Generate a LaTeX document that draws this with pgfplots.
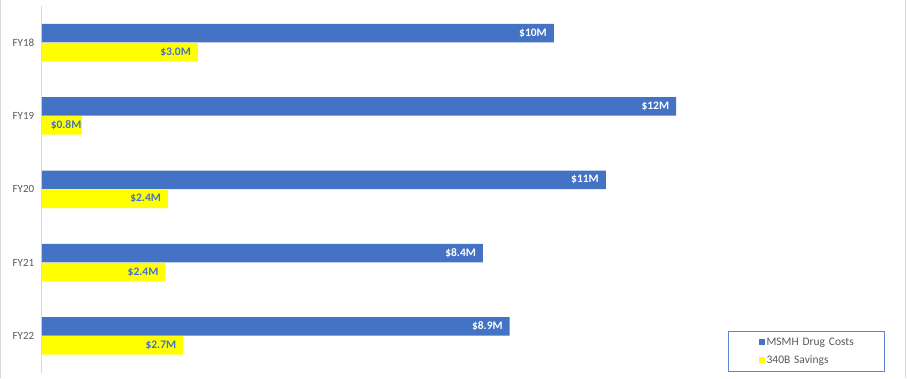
\documentclass[border=0pt]{standalone}
\usepackage{pgfplots}
\pgfplotsset{compat=1.18}
\usepackage{fontspec}
\setmainfont{Carlito}
\definecolor{cblue}{HTML}{4472C4}
\definecolor{cyel}{HTML}{FFFF00}
\definecolor{tgrey}{HTML}{595959}
\definecolor{lgrey}{HTML}{D9D9D9}
\begin{document}
\begin{tikzpicture}[x=1pt,y=1pt]
\path (0,0) rectangle (907,378);
\draw[lgrey, line width=1pt] (0.5,0) -- (0.5,378);
\draw[lgrey, line width=1pt] (905.5,0) -- (905.5,378);
\begin{axis}[
  at={(42pt,6pt)}, anchor=south west,
  scale only axis, width=843pt, height=366.5pt,
  xmin=0, xmax=16.06, ymin=-0.5, ymax=4.5,
  y dir=reverse,
  xbar, bar width=18.5pt,
  hide x axis,
  axis y line*=left,
  y axis line style={draw=lgrey, line width=1pt, -},
  ytick={0,1,2,3,4},
  yticklabels={FY18,FY19,FY20,FY21,FY22},
  ytick style={draw=none},
  yticklabel style={font=\fontsize{11}{13}\selectfont, text=tgrey},
  point meta=explicit symbolic,
  nodes near coords,
  nodes near coords style={anchor=east, xshift=-3.5pt, font=\bfseries\fontsize{11.5}{14}\selectfont},
  legend style={at={(1,0.003)}, anchor=south east, draw=cblue!85, line width=0.8pt,
    font=\fontsize{11.5}{13}\selectfont, text=tgrey, row sep=5pt,
    inner xsep=4pt, inner ysep=4pt, cells={anchor=west}, text width=112pt},
  legend cell align=left,
]
\addplot[draw=none, fill=cblue, bar shift=9.5pt,
  nodes near coords style={text=white},
  legend image code/.code={\path (0pt,0pt); \fill[cblue] (26pt,-3pt) rectangle (32pt,3pt);}]
  coordinates {(9.75,0) [\$10M] (12.08,1) [\$12M] (10.74,2) [\$11M] (8.40,3) [\$8.4M] (8.91,4) [\$8.9M]};
\addlegendentry{MSMH Drug Costs}
\addplot[draw=none, fill=cyel, bar shift=-9.5pt,
  nodes near coords style={text=cblue},
  legend image code/.code={\path (0pt,0pt); \fill[cyel] (26pt,-3pt) rectangle (32pt,3pt);}]
  coordinates {(2.97,0) [\$3.0M] (0.76,1) [\$0.8M\kern-6.5pt] (2.40,2) [\$2.4M] (2.35,3) [\$2.4M] (2.69,4) [\$2.7M]};
\addlegendentry{340B Savings}
\end{axis}
\end{tikzpicture}
\end{document}
